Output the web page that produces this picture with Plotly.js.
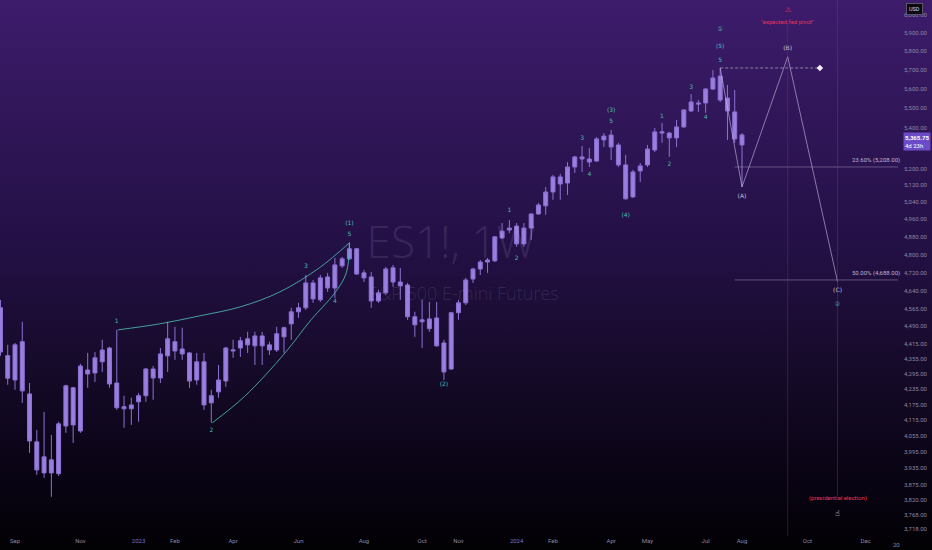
<!DOCTYPE html>
<html><head><meta charset="utf-8">
<script src="https://cdn.plot.ly/plotly-3.0.1.min.js"></script>
<style>
html,body{margin:0;padding:0;width:932px;height:550px;overflow:hidden;}
body{background:linear-gradient(180deg,#3d1c6c 0%,#301658 22%,#231045 45%,#150a28 68%,#080312 88%,#020104 100%);}
#chart{width:932px;height:550px;}
</style></head><body><div id="chart"></div>
<script>
// ---- weekly OHLC (ES1!, 1W), first bar week of 2022-08-22 ----
const firstWeek = '2022-08-22';
const openP = [4568,4369,4271,4426,4216,4032,3917,3965,3914,4092,
 4240,4073,4311,4299,4344,4400,4259,4166,4158,4185,
 4209,4315,4279,4368,4426,4396,4380,4271,4344,4181,
 4224,4267,4388,4400,4438,4409,4450,4413,4392,4446,
 4500,4551,4568,4675,4602,4701,4653,4750,4781,4826,
 4719,4701,4597,4632,4741,4679,4666,4530,4509,4480,
 4525,4421,4315,4547,4589,4692,4736,4767,4772,4875,
 4911,4929,4848,4920,4985,5023,5088,5160,5131,5208,
 5257,5247,5237,5341,5365,5316,5218,5065,5189,5218,
 5291,5375,5375,5351,5406,5487,5528,5528,5600,5668,
 5553,5482,5316];
const highP = [4602,4413,4421,4509,4259,4077,4146,4058,4108,4252,
 4244,4336,4380,4384,4434,4405,4475,4209,4201,4220,
 4319,4327,4400,4509,4488,4484,4384,4380,4380,4232,
 4331,4405,4434,4446,4467,4467,4467,4426,4488,4488,
 4568,4589,4710,4688,4710,4719,4785,4790,4853,4830,
 4732,4723,4645,4745,4754,4741,4675,4551,4602,4593,
 4593,4434,4551,4602,4697,4741,4776,4785,4884,4943,
 4957,4943,4943,4989,5037,5112,5170,5175,5232,5262,
 5311,5301,5355,5375,5391,5326,5267,5194,5227,5316,
 5401,5426,5381,5441,5497,5574,5543,5605,5700,5711,
 5621,5595,5375];
const lowP = [4368,4252,4232,4181,3991,3910,3899,3831,3906,4066,
 4028,4066,4240,4263,4303,4240,4154,4085,4096,4108,
 4185,4193,4259,4303,4352,4352,4240,4252,4154,4104,
 4201,4244,4360,4364,4380,4331,4331,4372,4384,4380,
 4434,4525,4559,4589,4593,4636,4610,4741,4776,4710,
 4679,4568,4589,4623,4658,4602,4517,4446,4400,4467,
 4405,4271,4311,4517,4580,4675,4710,4719,4767,4871,
 4897,4835,4835,4866,4981,4981,5051,5051,5074,5179,
 5184,5208,5232,5306,5242,5208,5051,5060,5136,5208,
 5281,5326,5257,5306,5401,5482,5482,5477,5595,5533,
 5341,5326,5112];
const closeP = [4384,4278,4413,4228,4035,3928,3976,3917,4100,4248,
 4096,4327,4295,4360,4392,4255,4162,4158,4173,4209,
 4315,4279,4376,4438,4388,4376,4267,4344,4173,4209,
 4271,4400,4392,4430,4413,4450,4409,4392,4459,4484,
 4551,4568,4675,4606,4697,4653,4754,4781,4826,4714,
 4697,4597,4632,4736,4679,4662,4530,4496,4517,4521,
 4409,4303,4547,4589,4688,4736,4767,4776,4880,4906,
 4920,4848,4920,4985,5027,5088,5160,5126,5208,5257,
 5247,5232,5346,5360,5306,5218,5056,5184,5213,5296,
 5381,5381,5351,5406,5492,5533,5523,5600,5658,5543,
 5487,5346,5365.75];
const lastPrice = 5365.75;
const timeLeft = '4d 23h';

// ---- axis ticks ----
const yTicks = [6000,5900,5800,5700,5600,5500,5400,5200,5120,5040,4960,4880,4800,4720,4640,4565,4490,4415,4355,4295,4235,4175,4115,4055,3995,3935,3875,3820,3768,3718];
const xTickDates = ['2022-09-05','2022-11-07','2023-01-02','2023-02-06','2023-04-03','2023-06-05','2023-08-07','2023-10-02','2023-11-06','2024-01-01','2024-02-05','2024-04-01','2024-05-06','2024-07-01','2024-08-05','2024-10-07','2024-12-02'];
const xTickText = ['Sep','Nov','2023','Feb','Apr','Jun','Aug','Oct','Nov','2024','Feb','Apr','May','Jul','Aug','Oct','Dec'];

// ---- drawings ----
const upperCurveX = ['2022-12-13','2023-01-22','2023-03-02','2023-04-10','2023-05-18','2023-06-25','2023-07-24'];
const upperCurveY = [4475,4500,4534,4572,4636,4741,4853];
const lowerCurveX = ['2023-03-14','2023-04-14','2023-05-23','2023-06-17','2023-07-10','2023-07-21','2023-07-24'];
const lowerCurveY = [4104,4206,4380,4517,4632,4719,4853];
const projX = ['2024-07-15','2024-08-05','2024-09-18','2024-11-05'];
const projY = [5711,5112,5771,4680];
const dashX = ['2024-07-15','2024-10-19'];
const dashY = [5711,5711];
const fibLevels = [5208,4688];
const fibLabels = ['23.60% (5,208.00)','50.00% (4,688.00)'];
const fibStart = '2024-07-29';
const fedDate = '2024-09-18';
const electionDate = '2024-11-05';

const waveText = ['1','2','3','4','5','(1)','(2)','1','2','3','4','5','(3)','(4)','1','2','3','4','5','(5)','\u2460','\u2461'];
const waveX = ['2022-12-12','2023-03-13','2023-06-12','2023-07-10','2023-07-24','2023-07-24','2023-10-23','2023-12-25','2024-01-01','2024-03-04','2024-03-11','2024-04-01','2024-04-01','2024-04-15','2024-05-20','2024-05-27','2024-06-17','2024-07-01','2024-07-15','2024-07-15','2024-07-15','2024-11-05'];
const waveY = [4509,4073,4745,4593,4889,4943,4255,5000,4781,5346,5174,5431,5487,4976,5461,5218,5610,5456,5753,5824,5922,4580];
const abcText = ['(A)','(B)','(C)'];
const abcX = ['2024-08-05','2024-09-18','2024-11-05'];
const abcY = [5069,5818,4641];

// weekly dates
const dates = openP.map((_, i) => {
  const d = new Date(Date.parse(firstWeek + 'T00:00:00Z') + i * 7 * 864e5);
  return d.toISOString().slice(0, 10);
});

const teal = 'rgba(78,184,176,0.85)';
const lav = 'rgba(200,190,225,0.6)';
const red = '#e8345c';
const tickCol = '#8c86a2';

const traces = [
  { type:'scatter', mode:'text', x:['2023-10-30','2023-11-11'], y:[4835,4622],
    text:['ES1!, 1W','S&amp;P 500 E-mini Futures'],
    textfont:{family:'Open Sans', size:[44,18], color:'rgba(200,190,225,0.15)', weight:300},
    hoverinfo:'skip', showlegend:false, cliponaxis:false },
  { type:'scatter', mode:'lines', x:upperCurveX, y:upperCurveY, line:{color:teal, width:1, shape:'spline'}, hoverinfo:'skip', showlegend:false },
  { type:'scatter', mode:'lines', x:lowerCurveX, y:lowerCurveY, line:{color:teal, width:1, shape:'spline'}, hoverinfo:'skip', showlegend:false },
  { type:'scatter', mode:'lines', x:[fibStart,'2025-01-03'], y:[fibLevels[0],fibLevels[0]], line:{color:'rgba(175,165,200,0.45)', width:1}, hoverinfo:'skip', showlegend:false },
  { type:'scatter', mode:'lines', x:[fibStart,'2025-01-03'], y:[fibLevels[1],fibLevels[1]], line:{color:'rgba(175,165,200,0.45)', width:1}, hoverinfo:'skip', showlegend:false },
  { type:'candlestick', x:dates, open:openP, high:highP, low:lowP, close:closeP,
    increasing:{line:{color:'#8d72d4', width:1}, fillcolor:'#9a7ee0'},
    decreasing:{line:{color:'#8d72d4', width:1}, fillcolor:'#9a7ee0'},
    whiskerwidth:0, hoverinfo:'skip', showlegend:false },
  { type:'scatter', mode:'lines', x:projX, y:projY, line:{color:lav, width:1}, hoverinfo:'skip', showlegend:false },
  { type:'scatter', mode:'lines', x:dashX, y:dashY, line:{color:lav, width:1, dash:'3px,2px'}, hoverinfo:'skip', showlegend:false },
  { type:'scatter', mode:'text', x:waveX, y:waveY, text:waveText,
    textfont:{family:'DejaVu Sans', size:6, color:'#4fbab2'}, hoverinfo:'skip', showlegend:false, cliponaxis:false },
  { type:'scatter', mode:'text', x:abcX, y:abcY, text:abcText,
    textfont:{family:'DejaVu Sans', size:6, color:'#c9c1dc'}, hoverinfo:'skip', showlegend:false, cliponaxis:false },
  { type:'scatter', mode:'markers', x:[dashX[1]], y:[dashY[1]], marker:{symbol:'diamond', size:5, color:'#f2eef8'}, hoverinfo:'skip', showlegend:false }
];

const L = v => Math.log10(v);
const annotations = [
  ...fibLabels.map((t, i) => ({ xref:'paper', x:1, xanchor:'right', xshift:4, yref:'y', y:L(fibLevels[i]), yanchor:'bottom', yshift:1,
     text:t, showarrow:false, font:{family:'Roboto', size:6, color:'#bdb4d2'} })),
  { xref:'x', x:fedDate, yref:'paper', y:0.993, text:'\u26A0', showarrow:false, font:{family:'DejaVu Sans', size:7, color:red} },
  { xref:'x', x:fedDate, yref:'paper', y:0.970, text:'"expected fed pivot"', showarrow:false, font:{family:'Roboto', size:6, color:red} },
  { xref:'x', x:electionDate, yref:'paper', y:0.060, text:'(presidential election)', showarrow:false, font:{family:'Roboto', size:6, color:red} },
  { xref:'x', x:electionDate, yref:'paper', y:0.030, text:'\u261D', showarrow:false, font:{family:'DejaVu Sans', size:8, color:'#f2eef8'} },
  { xref:'paper', x:1, xanchor:'left', xshift:5, yref:'y', y:L(lastPrice), yanchor:'top', yshift:3,
    text:'<b>' + lastPrice.toLocaleString('en-US',{minimumFractionDigits:2}) + '</b><br>' + timeLeft,
    showarrow:false, bgcolor:'#6b4cc6', borderpad:1, align:'left', font:{family:'Roboto', size:6, color:'#ffffff'} },
  { xref:'paper', x:1, xanchor:'left', xshift:8, yref:'paper', y:0.995, yanchor:'top',
    text:'USD', showarrow:false, bgcolor:'#0d0a12', bordercolor:'#5a5466', borderwidth:1, borderpad:2,
    font:{family:'Roboto', size:5.5, color:'#d8d4e0'} },
  { xref:'paper', x:1.004, yref:'paper', y:0, yanchor:'top', yshift:-3, text:'20', showarrow:false, font:{family:'Roboto', size:6, color:tickCol} }
];

const shapes = [
  { type:'line', xref:'x', x0:fedDate, x1:fedDate, yref:'paper', y0:0, y1:0.96, line:{color:'rgba(170,50,90,0.35)', width:1} },
  { type:'line', xref:'x', x0:electionDate, x1:electionDate, yref:'paper', y0:0.075, y1:1, line:{color:'rgba(170,40,70,0.45)', width:1} }
];

const layout = {
  width:932, height:550,
  margin:{l:0, r:34, t:0, b:14},
  paper_bgcolor:'rgba(0,0,0,0)', plot_bgcolor:'rgba(0,0,0,0)',
  showlegend:false, hovermode:false, boxgap:0.22,
  xaxis:{ type:'date', range:['2022-08-21 13:25','2025-01-02 05:00'], rangeslider:{visible:false},
    tickvals:xTickDates,
    ticktext:xTickText.map(t => /^20\d\d$/.test(t) ? '<span style="color:#6f6fd8">' + t + '</span>' : t),
    showgrid:false, zeroline:false, showline:false, ticks:'',
    tickfont:{family:'Roboto', size:6, color:tickCol}, fixedrange:true },
  yaxis:{ type:'log', side:'right', range:[3.567439, 3.784197],
    tickvals:yTicks, ticktext:yTicks.map(v => v.toLocaleString('en-US',{minimumFractionDigits:2})),
    showgrid:false, zeroline:false, showline:false, ticks:'', ticklabelstandoff:5,
    tickfont:{family:'Roboto', size:6, color:tickCol}, fixedrange:true },
  shapes, annotations
};

Plotly.newPlot('chart', traces, layout, {displayModeBar:false, staticPlot:true});
</script></body></html>
